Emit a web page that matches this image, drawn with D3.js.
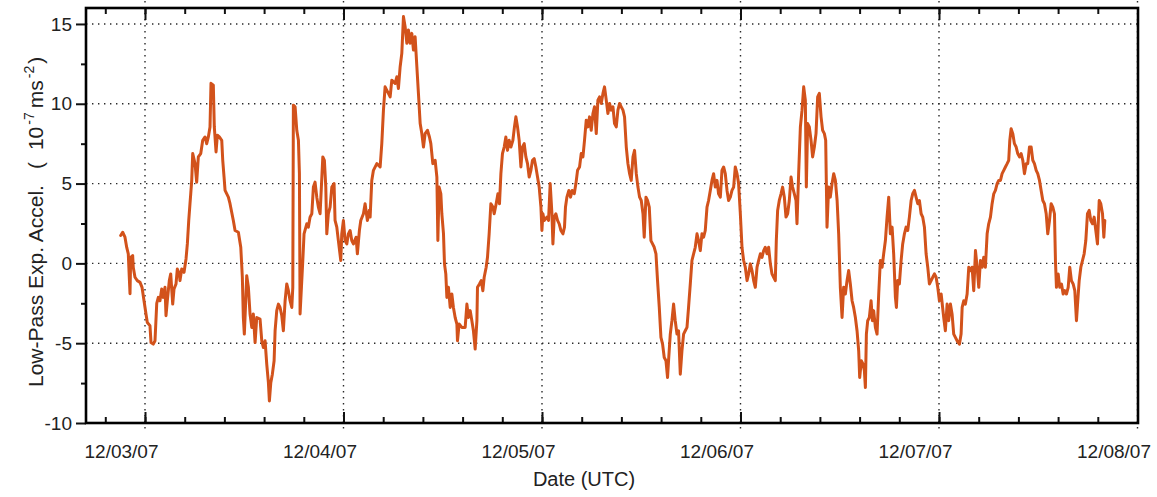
<!DOCTYPE html>
<html>
<head>
<meta charset="utf-8">
<title>Low-Pass Exp. Accel.</title>
<script src="https://cdn.jsdelivr.net/npm/d3@7"></script>
<style>
  html, body { margin: 0; padding: 0; background: #ffffff; }
  svg { display: block; font-family: "Liberation Sans", Arial, Helvetica, sans-serif; }
</style>
</head>
<body>
<svg id="chart" width="1157" height="497"></svg>
<script>
// Sample times, in hours after 2007-12-03 00:00 UTC
const hours = [
-2.94,-2.70,-2.42,-2.21,-2.02,-1.90,-1.81,-1.73,-1.49,-1.42,-1.21,-0.93,-0.60,-0.36,-0.12,0.12,0.28,0.60,0.73,1.00,
1.21,1.42,1.61,1.81,2.02,2.21,2.42,2.54,2.70,2.94,3.11,3.35,3.51,3.75,3.91,4.15,4.23,4.44,4.72,4.96,
5.12,5.29,5.44,5.53,5.65,5.77,6.05,6.25,6.45,6.74,6.98,7.26,7.46,7.66,7.86,7.98,8.26,8.38,8.59,8.75,
8.99,9.28,9.40,9.56,9.68,10.08,10.28,10.68,10.89,11.29,11.58,11.77,11.89,12.01,12.18,12.30,12.50,12.70,12.91,13.10,
13.31,13.51,13.91,14.12,14.31,14.52,14.72,14.92,15.04,15.21,15.40,15.61,15.73,15.93,16.13,16.33,16.54,16.73,16.94,17.14,
17.34,17.54,17.75,17.87,17.94,18.15,18.35,18.55,18.67,18.75,19.08,19.23,19.56,19.75,19.96,20.17,20.36,20.56,20.77,20.96,
21.17,21.50,21.69,21.86,21.98,22.17,22.38,22.59,22.86,22.98,23.19,23.38,23.67,23.79,23.99,24.19,24.40,24.59,24.80,25.00,
25.20,25.52,25.68,25.92,26.09,26.41,26.61,26.89,27.13,27.22,27.42,27.62,28.03,28.43,28.63,28.83,29.03,29.43,29.64,29.84,
30.24,30.45,30.64,30.85,31.05,31.25,31.45,31.66,31.85,32.06,32.26,32.46,32.66,32.87,33.06,33.27,33.47,33.67,33.87,34.15,
34.39,34.56,34.80,35.08,35.29,35.41,35.56,35.77,35.89,36.09,36.21,36.37,36.50,36.69,36.90,37.10,37.29,37.50,37.71,37.78,
37.98,38.31,38.71,38.92,39.11,39.32,39.52,39.71,39.92,40.13,40.20,40.44,40.65,40.85,41.01,41.25,41.41,41.61,41.82,42.06,
42.22,42.46,42.67,42.86,43.03,43.22,43.43,43.63,43.83,44.03,44.24,44.48,44.67,44.84,45.04,45.24,45.45,45.64,45.85,46.05,
46.25,46.45,46.66,46.85,47.06,47.26,47.46,47.66,47.87,47.99,48.11,48.27,48.59,48.79,48.99,49.20,49.32,49.48,49.68,49.88,
50.08,50.29,50.53,50.72,50.84,51.01,51.25,51.45,51.65,51.90,52.10,52.30,52.54,52.74,52.95,53.14,53.35,53.55,53.75,53.95,
54.16,54.35,54.56,54.76,54.96,55.16,55.37,55.56,55.77,55.97,56.17,56.37,56.58,56.77,56.98,57.18,57.38,57.58,57.79,57.98,
58.19,58.39,58.59,58.79,59.00,59.19,59.40,59.60,59.80,60.00,60.21,60.36,60.57,60.76,60.97,61.17,61.37,61.57,61.78,61.97,
62.18,62.38,62.58,62.78,62.99,63.18,63.30,63.51,63.71,63.91,64.11,64.32,64.51,64.72,64.92,65.12,65.32,65.53,65.72,65.93,
66.13,66.33,66.53,66.74,66.93,67.14,67.34,67.54,67.74,67.95,68.14,68.35,68.55,68.75,68.95,69.16,69.35,69.56,69.76,69.96,
70.16,70.37,70.56,70.77,70.97,71.17,71.37,71.58,71.77,71.98,72.18,72.38,72.58,72.79,72.98,73.19,73.39,73.59,73.79,74.00,
74.19,74.40,74.60,74.80,75.00,75.21,75.40,75.61,75.81,76.01,76.21,76.33,76.49,76.69,76.90,77.09,77.30,77.50,77.70,77.90,
78.11,78.30,78.51,78.71,78.83,79.03,79.24,79.44,79.64,79.84,79.96,80.12,80.32,80.53,80.72,80.93,81.13,81.33,81.53,81.74,
81.93,82.14,82.30,82.46,82.66,82.86,83.07,83.27,83.47,83.68,83.87,84.07,84.28,84.47,84.68,84.88,85.08,85.28,85.49,85.68,
85.89,86.09,86.29,86.41,86.61,86.82,86.98,87.10,87.22,87.38,87.58,87.79,87.95,88.10,88.31,88.51,88.71,88.91,89.12,89.31,
89.52,89.72,89.92,90.12,90.33,90.52,90.73,90.85,91.01,91.21,91.42,91.61,91.82,92.02,92.22,92.42,92.63,92.82,93.03,93.23,
93.43,93.63,93.84,94.03,94.24,94.44,94.64,94.84,95.05,95.24,95.45,95.65,95.85,96.05,96.26,96.57,96.77,96.98,97.17,97.38,
97.58,97.78,97.98,98.19,98.47,98.67,98.80,98.99,99.19,99.40,99.60,99.80,100.00,100.20,100.41,100.61,100.81,101.01,101.22,101.41,
101.61,101.82,102.01,102.22,102.42,102.62,102.82,103.03,103.22,103.43,103.63,103.83,104.03,104.24,104.43,104.56,104.72,104.92,105.12,105.33,
105.52,105.73,105.93,106.13,106.33,106.54,106.73,106.94,107.14,107.34,107.54,107.75,107.94,108.15,108.35,108.55,108.75,108.96,109.15,109.36,
109.56,109.76,109.96,110.08,110.20,110.41,110.60,110.81,111.01,111.20,111.41,111.62,111.81,112.01,112.22,112.42,112.62,112.78,112.95,113.15,
113.35,113.55,113.75,113.95,114.16,114.35,114.56,114.76,114.96,115.16,115.37,115.56,115.77,115.93,116.05
];

// Low-pass filtered experienced acceleration, 10^-7 m/s^2
const accel = [
1.75,1.95,1.64,1.0,0.6,-0.87,-1.9,0.38,0.49,-0.24,-0.87,-1.08,-1.19,-1.5,-2.34,-3.17,-3.7,-3.9,-4.96,-5.06,
-4.85,-2.5,-2.13,-2.34,-1.6,-2.13,-1.5,-3.28,-2.34,-1.08,-0.66,-2.55,-1.6,-1.29,-0.35,-0.66,-1.08,-0.35,-0.56,0.28,
1.22,2.69,3.74,4.36,5.2,6.88,6.25,5.09,6.67,6.88,7.71,7.92,7.5,7.92,8.55,11.28,11.17,8.55,6.98,8.03,
7.92,7.71,6.46,5.41,4.57,4.15,3.74,2.69,2.06,1.95,1.01,-0.87,-3.39,-4.43,-2.34,-0.77,-1.5,-3.17,-4.01,-3.17,
-4.96,-3.39,-3.49,-4.85,-5.27,-4.85,-6.31,-7.47,-8.62,-7.47,-6.94,-6.1,-4.22,-2.96,-2.55,-2.76,-3.28,-4.22,-2.34,-1.29,
-1.71,-2.34,-2.76,-1.5,9.91,9.81,8.34,7.71,5.64,-3.17,0.18,1.85,2.48,2.27,2.9,3.11,4.78,5.09,4.15,3.53,
3.11,6.67,6.46,4.78,1.85,3.11,3.53,4.78,5.0,2.69,2.27,1.43,0.18,1.85,2.69,1.43,1.22,1.85,2.06,1.43,
1.22,1.64,0.6,2.06,2.69,3.11,3.74,2.69,3.32,2.9,5.2,5.83,6.25,6.04,7.5,9.6,11.06,10.65,10.43,11.48,
11.28,11.69,10.96,12.32,13.16,15.46,14.83,13.79,14.62,13.79,14.41,13.37,14.2,12.32,10.65,8.76,8.13,7.29,8.13,8.34,
7.92,7.5,6.25,6.46,5.41,1.43,4.78,4.36,3.11,1.85,-0.03,-0.66,-2.13,-1.5,-2.76,-1.92,-2.76,-3.39,-3.8,-4.85,
-3.8,-4.01,-4.01,-2.55,-3.39,-2.96,-3.59,-4.22,-5.37,-3.59,-1.5,-1.29,-1.08,-1.71,-0.87,-0.24,0.38,1.85,3.74,3.53,
3.11,3.74,4.36,3.74,5.62,6.88,7.29,7.92,7.08,7.71,7.29,7.71,8.55,9.18,8.55,7.71,6.04,7.29,7.5,6.67,
6.25,5.41,5.83,6.46,6.56,6.04,5.41,4.78,3.53,2.06,3.11,2.69,2.9,2.69,5.0,3.11,1.22,2.9,3.11,2.69,
2.48,2.06,1.85,2.27,3.53,4.15,4.57,4.15,4.57,4.36,5.0,5.83,6.04,6.88,6.67,7.71,8.97,8.55,9.18,8.34,
9.39,9.81,8.13,10.23,10.43,10.02,10.65,11.06,10.23,9.39,10.02,9.6,9.81,8.76,8.55,9.6,10.02,9.81,9.6,9.18,
7.29,6.25,5.62,5.2,6.67,7.08,5.62,4.78,4.15,3.94,3.11,1.64,4.15,3.94,3.53,1.43,1.22,1.01,0.6,-1.08,
-2.76,-4.64,-5.06,-5.9,-6.1,-7.15,-6.1,-4.43,-3.59,-2.55,-3.59,-4.43,-4.22,-6.94,-5.48,-4.43,-4.22,-4.01,-2.76,-1.29,
0.18,0.6,1.01,1.85,1.43,0.8,1.85,1.64,2.06,3.53,3.94,4.57,5.2,5.62,4.78,5.2,4.36,4.15,5.83,6.04,
5.62,4.57,3.94,4.15,4.57,4.78,6.04,5.62,5.0,3.11,1.01,0.18,-0.24,-1.08,-0.66,-0.03,-0.45,-1.08,-1.5,-0.24,
0.18,0.6,0.38,0.8,1.01,0.6,1.01,-0.03,-0.66,-0.87,-1.08,1.43,3.32,3.94,4.36,4.78,4.15,2.9,3.11,3.94,
5.41,4.78,4.36,3.94,2.48,5.62,8.55,9.6,11.06,10.23,4.78,8.76,8.55,7.71,6.67,7.29,8.13,10.43,10.65,9.18,
8.34,8.13,7.71,2.27,4.78,4.15,5.0,5.62,5.2,3.94,1.85,-1.5,-3.39,-1.5,-1.92,-1.08,-0.45,-1.29,-2.34,-2.76,
-3.39,-4.22,-5.48,-7.15,-6.1,-6.31,-6.73,-7.78,-4.43,-3.59,-3.39,-2.34,-3.59,-2.96,-4.01,-4.43,-1.92,0.18,-0.24,0.6,
1.43,2.9,4.15,1.85,2.27,0.6,-2.13,-2.76,-1.08,-1.29,0.18,1.22,1.85,2.27,2.06,2.9,3.94,4.36,4.57,4.15,
3.74,3.94,3.11,2.9,2.27,0.6,-0.24,-1.29,-1.08,-0.87,-0.66,-0.87,-1.5,-2.34,-1.92,-3.39,-4.22,-2.55,-3.59,-2.55,
-3.17,-4.43,-4.64,-4.85,-5.06,-4.43,-2.76,-2.34,-2.55,-1.92,-0.24,-0.45,-0.24,-1.71,0.8,-0.24,-1.5,0.18,-0.24,0.38,
-0.24,1.85,2.48,2.9,3.74,4.36,4.57,5.0,5.2,5.2,5.62,5.83,6.04,6.25,6.46,7.71,8.44,8.13,7.5,7.29,
6.88,6.67,6.88,6.46,5.62,6.25,6.25,7.29,7.29,6.46,6.25,5.83,5.62,5.2,4.57,3.94,3.74,3.11,1.85,2.69,
3.74,3.53,3.11,0.18,-1.5,-0.66,-1.5,-1.29,-1.92,-1.71,-1.92,-1.5,-0.24,-1.08,-1.29,-1.71,-3.59,-2.34,-1.08,-0.24,
0.18,0.6,1.43,3.11,3.32,2.69,2.48,2.9,2.06,1.22,3.94,3.74,3.11,1.64,2.69
];

// Day boundaries shown on the time axis and their labels
const dayOffsets = [0, 1, 2, 3, 4, 5];
const dayLabels = ["12/03/07", "12/04/07", "12/05/07", "12/06/07", "12/07/07", "12/08/07"];
// Value axis ticks
const yMajorTicks = [-10, -5, 0, 5, 10, 15];
const yMinorTicks = [-7.5, -2.5, 2.5, 7.5, 12.5];

if (hours.length !== accel.length) {
  throw new Error("series length mismatch: " + hours.length + " vs " + accel.length);
}

const HOUR = 3600 * 1000;
const DAY = 24 * HOUR;
const t0 = Date.UTC(2007, 11, 3);
const series = hours.map((h, i) => ({ t: new Date(t0 + h * HOUR), v: accel[i] }));

const frame = { left: 86, right: 1137.5, top: 8, bottom: 423 };

const x = d3.scaleUtc()
  .domain([new Date(t0 - 7.133 * HOUR), new Date(t0 + 5 * DAY)])
  .range([frame.left, frame.right]);

const y = d3.scaleLinear()
  .domain([-10, 16])
  .range([frame.bottom, frame.top]);

const dayDates = dayOffsets.map(d => new Date(t0 + d * DAY));
// minor time ticks every fifth of a day
const minorDates = d3.range(-1, 26).map(k => new Date(t0 + k * DAY / 5))
  .filter(d => d >= x.domain()[0] && d <= x.domain()[1]);

const svg = d3.select("#chart");
const ink = "#222222";
const fontSize = 19;

// dotted grid
const grid = svg.append("g")
  .attr("stroke", "#2a2a2a")
  .attr("stroke-width", 1.4)
  .attr("stroke-dasharray", "1.4,4.6")
  .attr("fill", "none");

grid.selectAll("line.v")
  .data(dayDates)
  .join("line")
  .attr("class", "v")
  .attr("x1", d => x(d)).attr("x2", d => x(d))
  .attr("y1", 1).attr("y2", 429);

grid.selectAll("line.h")
  .data(yMajorTicks.filter(v => v > -10))
  .join("line")
  .attr("class", "h")
  .attr("x1", frame.left).attr("x2", frame.right)
  .attr("y1", d => y(d)).attr("y2", d => y(d));

// data trace
const line = d3.line()
  .x(d => x(d.t))
  .y(d => y(d.v));

svg.append("path")
  .datum(series)
  .attr("fill", "none")
  .attr("stroke", "#d2521b")
  .attr("stroke-width", 3)
  .attr("stroke-linejoin", "round")
  .attr("stroke-linecap", "round")
  .attr("d", line);

// axes
function styleAxis(g) {
  g.select(".domain").remove();
  g.selectAll(".tick line").attr("stroke", "#111").attr("stroke-width", 2);
  g.selectAll(".tick text")
    .attr("fill", ink)
    .attr("font-size", fontSize)
    .attr("font-family", "'Liberation Sans', Arial, Helvetica, sans-serif");
}

svg.append("g")
  .attr("transform", `translate(0,${frame.bottom})`)
  .call(d3.axisBottom(x).tickValues(minorDates).tickSize(-6).tickFormat(""))
  .call(styleAxis);

svg.append("g")
  .attr("transform", `translate(0,${frame.bottom})`)
  .call(d3.axisBottom(x).tickValues(dayDates).tickSize(-11).tickPadding(22)
    .tickFormat((d, i) => dayLabels[i]))
  .call(styleAxis)
  .call(g => g.selectAll(".tick text").attr("dx", -24));

svg.append("g")
  .attr("transform", `translate(0,${frame.top})`)
  .call(d3.axisTop(x).tickValues(minorDates).tickSize(-6).tickFormat(""))
  .call(styleAxis);

svg.append("g")
  .attr("transform", `translate(0,${frame.top})`)
  .call(d3.axisTop(x).tickValues(dayDates).tickSize(-12).tickFormat(""))
  .call(styleAxis);

svg.append("g")
  .attr("transform", `translate(${frame.left},0)`)
  .call(d3.axisLeft(y).tickValues(yMinorTicks).tickSize(5).tickFormat(""))
  .call(styleAxis);

svg.append("g")
  .attr("transform", `translate(${frame.left},0)`)
  .call(d3.axisLeft(y).tickValues(yMajorTicks).tickSize(10).tickPadding(4)
    .tickFormat(d => (d < 0 ? "-" : "") + Math.abs(d)))
  .call(styleAxis);

// plot frame
svg.append("rect")
  .attr("x", frame.left)
  .attr("y", frame.top)
  .attr("width", frame.right + 0.5 - frame.left)
  .attr("height", frame.bottom - frame.top)
  .attr("fill", "none")
  .attr("stroke", "#000")
  .attr("stroke-width", 2.6);

// axis titles
svg.append("text")
  .attr("x", 584)
  .attr("y", 486)
  .attr("text-anchor", "middle")
  .attr("font-size", 20)
  .attr("fill", ink)
  .text("Date (UTC)");

const ylab = svg.append("text")
  .attr("transform", "translate(43,387) rotate(-90)")
  .attr("font-size", 21)
  .attr("fill", ink);
ylab.append("tspan").text("Low-Pass Exp. Accel.");
ylab.append("tspan").attr("dx", 16).text("(");
ylab.append("tspan").attr("dx", 12).text("10");
ylab.append("tspan").attr("dx", 2).attr("dy", -9).attr("font-size", 14).text("-7");
ylab.append("tspan").attr("dx", 4).attr("dy", 9).text("ms");
ylab.append("tspan").attr("dx", 2).attr("dy", -9).attr("font-size", 14).text("-2");
ylab.append("tspan").attr("dx", 2).attr("dy", 9).text(")");
</script>
</body>
</html>
